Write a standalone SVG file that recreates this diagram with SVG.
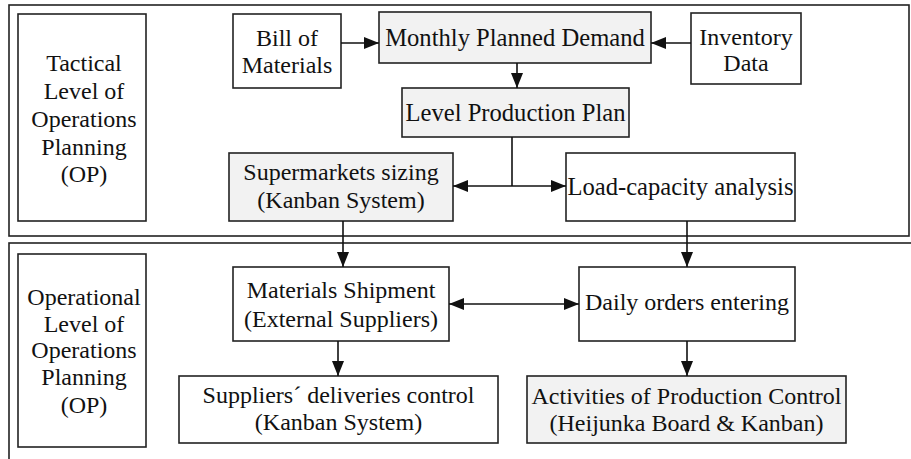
<svg xmlns="http://www.w3.org/2000/svg" width="911" height="459" viewBox="0 0 911 459">
<style>
.frame{fill:none;stroke:#222;stroke-width:1.6}
.box{fill:#fff;stroke:#222;stroke-width:1.6}
.gray{fill:#f2f2f2;stroke:#222;stroke-width:1.6}
text{font-family:"Liberation Serif","Times New Roman",serif;font-size:24px;fill:#111;text-anchor:middle}
text.w{font-size:24.6px}
.con line,.con path{stroke:#111;stroke-width:1.6;fill:none}
</style>
<defs>
<marker id="ah" markerUnits="userSpaceOnUse" markerWidth="15" markerHeight="12" refX="15" refY="6" orient="auto">
<path d="M0,0 L15,6 L0,12 Z" fill="#111"/>
</marker>
</defs>
<rect width="911" height="459" fill="#fff"/>
<rect id="tactical-frame" class="frame" x="9" y="5" width="900" height="231"/>
<rect id="operational-frame" class="frame" x="9" y="243" width="930" height="240"/>

<g id="tactical">
<rect class="box" x="18" y="14" width="128" height="207"/>
<text x="84" y="71">Tactical</text>
<text x="84" y="99">Level of</text>
<text x="84" y="127">Operations</text>
<text x="84" y="155">Planning</text>
<text x="84" y="182">(OP)</text>
</g>
<g id="bom">
<rect class="box" x="233" y="14" width="108" height="74"/>
<text x="287" y="46">Bill of</text>
<text x="287" y="73">Materials</text>
</g>
<g id="monthly">
<rect class="gray" x="379" y="12" width="272" height="51"/>
<text class="w" x="515" y="46">Monthly Planned Demand</text>
</g>
<g id="inventory">
<rect class="box" x="691" y="13" width="110" height="71"/>
<text x="746" y="45">Inventory</text>
<text x="746" y="71">Data</text>
</g>
<g id="level">
<rect class="gray" x="402" y="88" width="227" height="49"/>
<text class="w" x="515.5" y="121">Level Production Plan</text>
</g>
<g id="supermarkets">
<rect class="gray" x="229" y="153" width="224" height="68"/>
<text x="341" y="180">Supermarkets sizing</text>
<text x="341" y="208">(Kanban System)</text>
</g>
<g id="load">
<rect class="box" x="566" y="153" width="229" height="68"/>
<text class="w" x="680.5" y="195">Load-capacity analysis</text>
</g>

<g id="operational">
<rect class="box" x="18" y="254" width="128" height="193"/>
<text x="84" y="305">Operational</text>
<text x="84" y="332">Level of</text>
<text x="84" y="358">Operations</text>
<text x="84" y="385">Planning</text>
<text x="84" y="413">(OP)</text>
</g>
<g id="materials">
<rect class="box" x="233" y="267" width="216" height="74"/>
<text x="341" y="298">Materials Shipment</text>
<text x="341" y="327">(External Suppliers)</text>
</g>
<g id="daily">
<rect class="box" x="579" y="267" width="216" height="74"/>
<text x="687" y="310">Daily orders entering</text>
</g>
<g id="suppliers">
<rect class="box" x="179" y="376" width="319" height="67"/>
<text x="338.5" y="403">Suppliers´ deliveries control</text>
<text x="338.5" y="430">(Kanban System)</text>
</g>
<g id="activities">
<rect class="gray" x="527" y="376" width="319" height="67"/>
<text x="686.5" y="404">Activities of Production Control</text>
<text x="686.5" y="431">(Heijunka Board &amp; Kanban)</text>
</g>

<g id="connectors" class="con">
<line x1="341" y1="43" x2="379" y2="43" marker-end="url(#ah)"/>
<line x1="691" y1="43" x2="651" y2="43" marker-end="url(#ah)"/>
<line x1="517" y1="63" x2="517" y2="88" marker-end="url(#ah)"/>
<path d="M512,137 V186"/>
<line x1="512" y1="186" x2="453" y2="186" marker-end="url(#ah)"/>
<line x1="512" y1="186" x2="566" y2="186" marker-end="url(#ah)"/>
<line x1="343" y1="221" x2="343" y2="267" marker-end="url(#ah)"/>
<line x1="687" y1="221" x2="687" y2="267" marker-end="url(#ah)"/>
<line x1="514" y1="304" x2="449" y2="304" marker-end="url(#ah)"/>
<line x1="514" y1="304" x2="579" y2="304" marker-end="url(#ah)"/>
<line x1="338" y1="341" x2="338" y2="376" marker-end="url(#ah)"/>
<line x1="687" y1="341" x2="687" y2="376" marker-end="url(#ah)"/>
</g>
</svg>
